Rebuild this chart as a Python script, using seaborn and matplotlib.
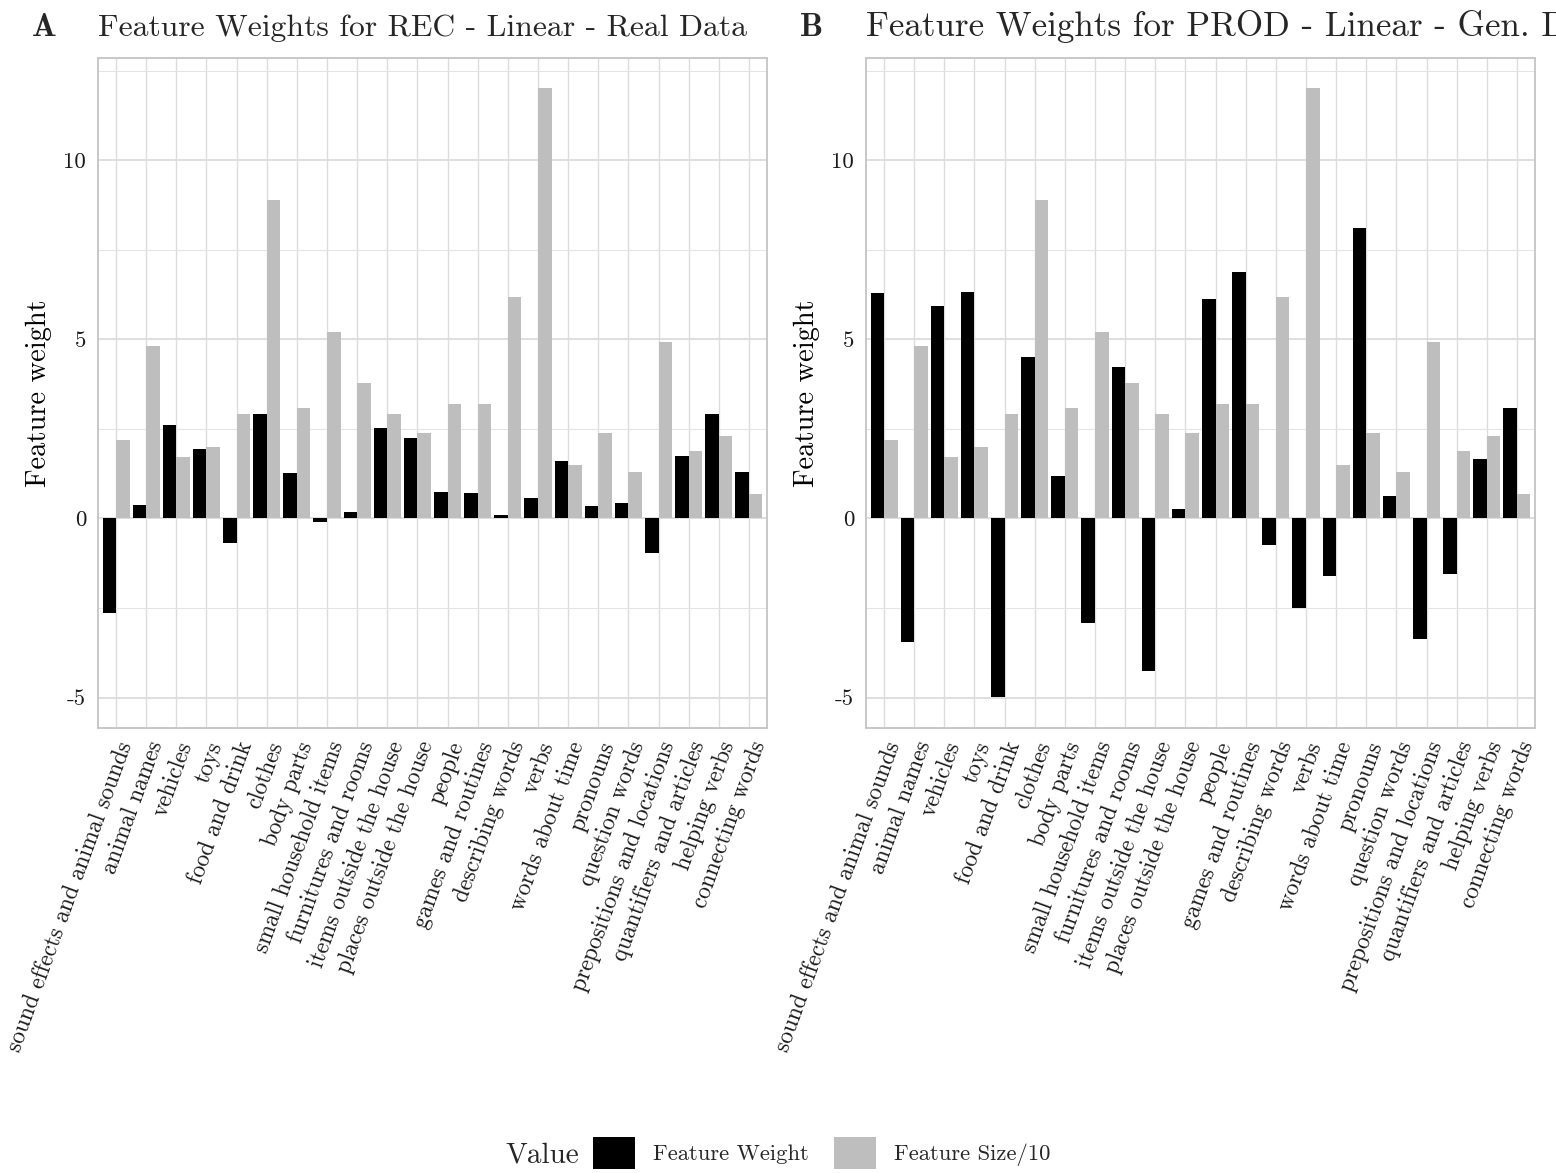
import matplotlib
matplotlib.use("Agg")
import matplotlib.pyplot as plt
import seaborn as sns
import pandas as pd
from matplotlib.patches import Patch
from matplotlib.ticker import FixedLocator

# ---------------- data ----------------
categories = [
    "sound effects and animal sounds", "animal names", "vehicles", "toys",
    "food and drink", "clothes", "body parts", "small household items",
    "furnitures and rooms", "items outside the house", "places outside the house",
    "people", "games and routines", "describing words", "verbs",
    "words about time", "pronouns", "question words",
    "prepositions and locations", "quantifiers and articles", "helping verbs",
    "connecting words",
]

feature_size_10 = [2.19, 4.80, 1.70, 2.00, 2.90, 8.90, 3.09, 5.21, 3.79, 2.90, 2.39,
                   3.20, 3.20, 6.19, 12.00, 1.49, 2.39, 1.30, 4.91, 1.89, 2.30, 0.69]

weights_rec_real = [-2.63, 0.38, 2.62, 1.94, -0.70, 2.92, 1.27, -0.11, 0.18, 2.53, 2.25,
                    0.74, 0.72, 0.10, 0.57, 1.61, 0.35, 0.44, -0.96, 1.75, 2.92, 1.30]

weights_prod_gen = [6.28, -3.44, 5.94, 6.33, -4.99, 4.51, 1.19, -2.93, 4.23, -4.25, 0.27,
                    6.13, 6.88, -0.75, -2.50, -1.62, 8.10, 0.63, -3.36, -1.56, 1.66, 3.07]

series_names = ["Feature Weight", "Feature Size/10"]
series_colors = ["#000000", "#BEBEBE"]

y_ticks = [-5, 0, 5, 10]
y_tick_labels = ["-5", "0", "5", "10"]
y_minor = [-2.5, 2.5, 7.5, 12.5]

titles = ["Feature Weights for REC - Linear - Real Data",
          "Feature Weights for PROD - Linear - Gen. Data"]
# part of each title and the pixel width it spans in the reference
title_measure = [("Feature Weights for REC - Linear - Real Data", 649),
                 ("Feature Weights for PROD - Linear - Gen.", 663)]
letters = ["A", "B"]

# ---------------- style ----------------
sns.set_theme(style="white")
plt.rcParams["font.family"] = ["cmr10", "DejaVu Serif"]
plt.rcParams["mathtext.fontset"] = "cm"
plt.rcParams["axes.formatter.use_mathtext"] = True
plt.rcParams["axes.unicode_minus"] = False

W, H = 1556, 1173
fig = plt.figure(figsize=(W / 100, H / 100), dpi=100)
renderer = fig.canvas.get_renderer()

panel_left = [98, 866]
panel_top, panel_bottom = 58, 728
panel_w = 669


def draw(ax, weights):
    df = pd.DataFrame({
        "category": categories * 2,
        "value": list(weights) + list(feature_size_10),
        "Value": [series_names[0]] * len(categories) + [series_names[1]] * len(categories),
    })
    sns.barplot(data=df, x="category", y="value", hue="Value", order=categories,
                hue_order=series_names, palette=series_colors, width=0.9, gap=0,
                errorbar=None, linewidth=0, saturation=1, legend=False, ax=ax)
    ax.set_xlim(-0.6, len(categories) - 0.4)
    ax.set_ylim(-5.85, 12.85)
    ax.yaxis.set_major_locator(FixedLocator(y_ticks))
    ax.set_yticklabels(y_tick_labels)
    ax.yaxis.set_minor_locator(FixedLocator(y_minor))
    ax.set_xticks(range(len(categories)))
    ax.set_xticklabels(categories, rotation=70, ha="right", va="top",
                       rotation_mode="anchor", fontsize=16.8)
    ax.grid(which="major", axis="y", color="#DCDCDC", lw=1.3)
    ax.grid(which="major", axis="x", color="#DCDCDC", lw=1.0)
    ax.grid(which="minor", axis="y", color="#E4E4E4", lw=0.75)
    ax.set_axisbelow(True)
    ax.tick_params(which="major", axis="both", length=4.5, width=1.1, color="#555555",
                   pad=4, labelsize=16.5, labelcolor="#1a1a1a")
    ax.tick_params(which="minor", length=0)
    ax.tick_params(axis="x", pad=3, labelsize=16.8)
    ax.set_xlabel("")
    ax.set_ylabel("Feature weight", fontsize=20.5, labelpad=8, color="#000000")
    for s in ax.spines.values():
        s.set_color("#C4C4C4")
        s.set_linewidth(1.3)


def fitted_size(text, target_px, base=22.8):
    t = fig.text(0, 0, text, fontsize=base)
    w = t.get_window_extent(renderer=renderer).width
    t.remove()
    return base * target_px / w


for i, weights in enumerate([weights_rec_real, weights_prod_gen]):
    ax = fig.add_axes([panel_left[i] / W, 1 - panel_bottom / H,
                       panel_w / W, (panel_bottom - panel_top) / H])
    draw(ax, weights)
    size = fitted_size(*title_measure[i])
    fig.text((panel_left[i]) / W, 1 - 36 / H, titles[i], fontsize=size,
             ha="left", va="baseline")
    fig.text((panel_left[i] - 66) / W, 1 - 36 / H, letters[i], fontsize=23.5,
             ha="left", va="baseline", family=["cmb10", "DejaVu Serif"])

# ---------------- legend ----------------
handles = [Patch(facecolor=c, edgecolor="none", label=n)
           for c, n in zip(series_colors, series_names)]
fig.legend(handles=handles, loc="center left", bbox_to_anchor=(593 / W, 1 - 1153 / H),
           ncol=2, frameon=False, fontsize=16.3, handlelength=1.85, handleheight=1.85,
           handletextpad=0.8, columnspacing=1.1, borderpad=0, borderaxespad=0)
fig.text(505 / W, 1 - 1155 / H, "Value", fontsize=21, ha="left", va="center")

fig.savefig("out.png", dpi=100)
